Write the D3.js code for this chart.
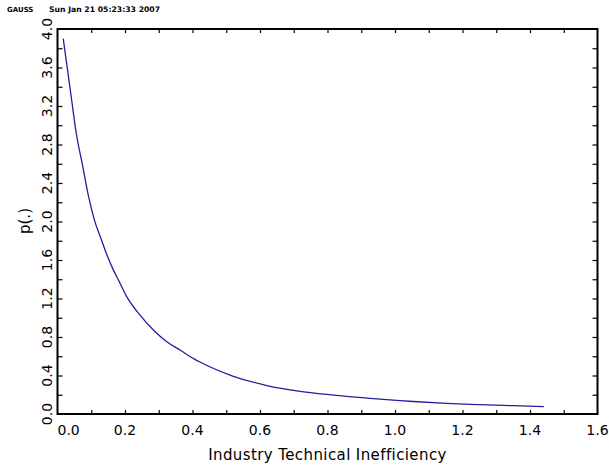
<!DOCTYPE html>
<html>
<head>
<meta charset="utf-8">
<script src="https://cdn.jsdelivr.net/npm/d3@7"></script>
<style>
  body { margin: 0; background: #fff; }
  svg { display: block; font-family: "DejaVu Sans", sans-serif; }
</style>
</head>
<body>
<svg width="609" height="471"></svg>
<script>
// values
var curveX = [0.017, 0.042, 0.055, 0.075, 0.092, 0.109, 0.129, 0.149, 0.165, 0.178,
              0.205, 0.244, 0.284, 0.324, 0.363, 0.407, 0.422, 0.521, 0.620, 0.719,
              0.817, 0.916, 1.015, 1.054, 1.153, 1.252, 1.350, 1.441];
var curveP = [3.90, 3.26, 2.93, 2.57, 2.26, 2.02, 1.82, 1.63, 1.50, 1.41,
              1.22, 1.03, 0.873, 0.751, 0.665, 0.568, 0.540, 0.392, 0.296, 0.236,
              0.197, 0.166, 0.139, 0.130, 0.111, 0.097, 0.086, 0.076];
var xTicks = [0.1, 0.2, 0.3, 0.4, 0.5, 0.6, 0.7, 0.8, 0.9, 1.0, 1.1, 1.2, 1.3, 1.4, 1.5];
var xLabels = [0.0, 0.2, 0.4, 0.6, 0.8, 1.0, 1.2, 1.4, 1.6];
var yTicks = [0.2, 0.4, 0.6, 0.8, 1.0, 1.2, 1.4, 1.6, 1.8, 2.0, 2.2, 2.4, 2.6, 2.8, 3.0, 3.2, 3.4, 3.6, 3.8];
var yLabels = [0.0, 0.4, 0.8, 1.2, 1.6, 2.0, 2.4, 2.8, 3.2, 3.6, 4.0];

var plotL = 57.5, plotR = 597.5, plotT = 29, plotB = 414,
    svg = d3.select('svg');

var x = d3.scaleLinear().domain([0, 1.6]).range([plotL, plotR]);
var y = d3.scaleLinear().domain([0, 4.0]).range([plotB, plotT]);

// header
svg.append("text").attr("x", 7).attr("y", 12)
    .attr("font-size", 7).attr("font-weight", "bold").text("GAUSS");
svg.append("text").attr("x", 49).attr("y", 12)
    .attr("font-size", 7.7).attr("font-weight", "bold").text("Sun Jan 21 05:23:33 2007");

// ticks on all four sides, pointing inward
var gB = svg.append("g").attr("transform", "translate(0," + plotB + ")")
    .call(d3.axisBottom(x).tickValues(xTicks).tickSize(-4).tickFormat(""));
var gT = svg.append("g").attr("transform", "translate(0," + plotT + ")")
    .call(d3.axisTop(x).tickValues(xTicks).tickSize(-4).tickFormat(""));
var gL = svg.append("g").attr("transform", "translate(" + plotL + ",0)")
    .call(d3.axisLeft(y).tickValues(yTicks).tickSize(-5).tickFormat(""));
var gR = svg.append("g").attr("transform", "translate(" + plotR + ",0)")
    .call(d3.axisRight(y).tickValues(yTicks).tickSize(-5).tickFormat(""));
[gB, gT, gL, gR].forEach(function(g) {
    g.select(".domain").remove();
    g.selectAll("line").attr("stroke", "#000").attr("stroke-width", 1.2);
});

svg.append("rect")
    .attr("x", plotL).attr("y", plotT)
    .attr("width", plotR - plotL).attr("height", plotB - plotT)
    .attr("fill", "none").attr("stroke", "#000").attr("stroke-width", 2);

// tick labels
svg.append("g").selectAll("text")
    .data(xLabels)
    .enter()
    .append("text")
    .attr("x", function(d) { return d === 0 ? plotL : x(d); })
    .attr("y", 435)
    .attr("text-anchor", function(d) { return d === 0 ? "start" : "middle"; })
    .attr("font-size", 14)
    .text(function(d) { return d.toFixed(1); });

svg.append("g").selectAll("text")
    .data(yLabels)
    .enter()
    .append("text")
    .attr("transform", function(d) { return "translate(52," + y(d) + ") rotate(-90)"; })
    .attr("text-anchor", "middle")
    .attr("font-size", 14)
    .text(function(d) { return d.toFixed(1); });

// axis titles
svg.append("text")
    .attr("x", (plotL + plotR) / 2).attr("y", 460)
    .attr("text-anchor", "middle")
    .attr("font-size", 15).attr("letter-spacing", 0.4)
    .text("Industry Technical Inefficiency");
svg.append("text")
    .attr("transform", "translate(30,221) rotate(-90)")
    .attr("text-anchor", "middle")
    .attr("font-size", 15)
    .text("p(.)");

// curve
var line = d3.line()
    .x(function(d, i) { return x(curveX[i]); })
    .y(function(d) { return y(d); })
    .curve(d3.curveMonotoneX);

svg.append("path")
    .datum(curveP)
    .attr("d", line)
    .attr("fill", "none")
    .attr("stroke", "#1f1f9e")
    .attr("stroke-width", 1.3);
</script>
</body>
</html>
